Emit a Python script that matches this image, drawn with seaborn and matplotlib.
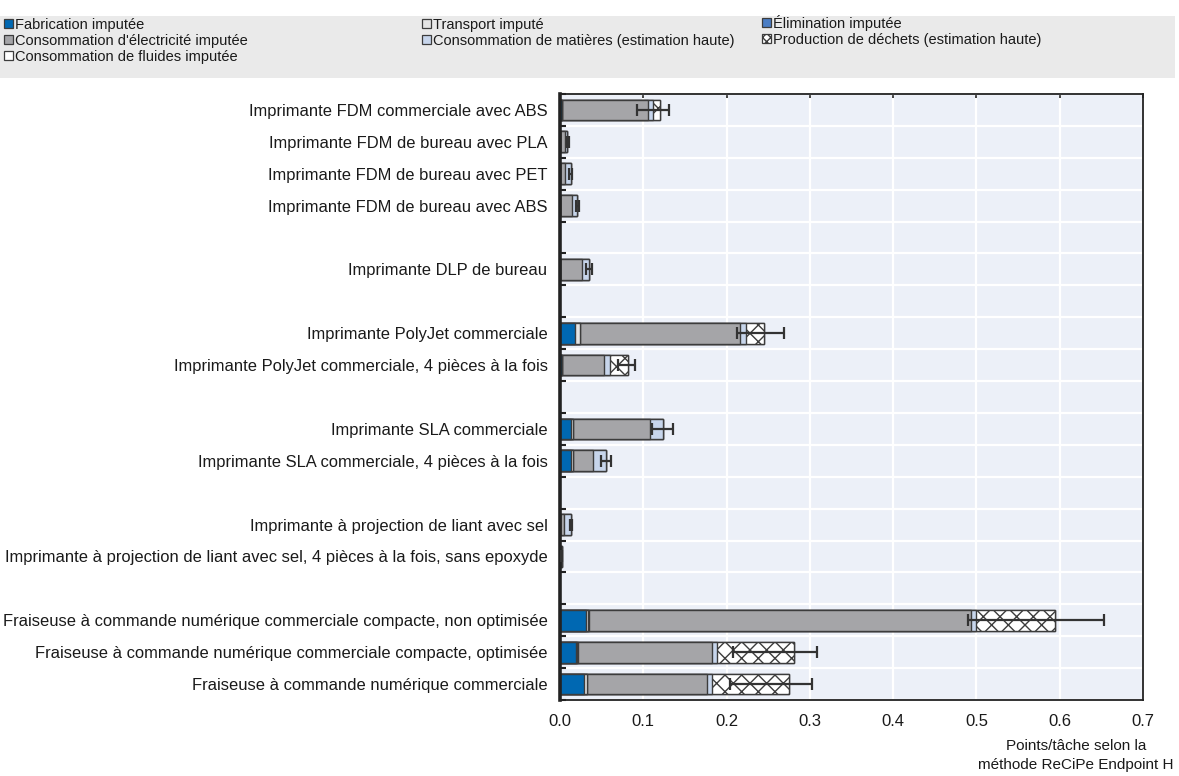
import matplotlib
matplotlib.use("Agg")
import matplotlib.pyplot as plt
from matplotlib.patches import Patch, Rectangle
import numpy as np
import pandas as pd
import seaborn as sns

# ---- data -------------------------------------------------------------
machines = [
    "Imprimante FDM commerciale avec ABS",
    "Imprimante FDM de bureau avec PLA",
    "Imprimante FDM de bureau avec PET",
    "Imprimante FDM de bureau avec ABS",
    "Imprimante DLP de bureau",
    "Imprimante PolyJet commerciale",
    "Imprimante PolyJet commerciale, 4 pièces à la fois",
    "Imprimante SLA commerciale",
    "Imprimante SLA commerciale, 4 pièces à la fois",
    "Imprimante à projection de liant avec sel",
    "Imprimante à projection de liant avec sel, 4 pièces à la fois, sans epoxyde",
    "Fraiseuse à commande numérique commerciale compacte, non optimisée",
    "Fraiseuse à commande numérique commerciale compacte, optimisée",
    "Fraiseuse à commande numérique commerciale",
]
# technology family of each machine (families are separated by an empty row)
family = ["FDM", "FDM", "FDM", "FDM", "DLP", "PolyJet", "PolyJet",
          "SLA", "SLA", "Liant", "Liant", "CN", "CN", "CN"]

fabrication = [0.003, 0.0, 0.0, 0.0, 0.0, 0.018, 0.002, 0.013, 0.013, 0.0, 0.0, 0.031, 0.019, 0.029]
transport = [0.0, 0.0, 0.0, 0.0, 0.0, 0.006, 0.001, 0.003, 0.003, 0.0, 0.0, 0.003, 0.002, 0.003]
elimination = [0.0, 0.0, 0.0, 0.0, 0.0, 0.0, 0.0, 0.0, 0.0, 0.0, 0.0, 0.001, 0.001, 0.001]
electricite = [0.103, 0.006, 0.006, 0.015, 0.026, 0.192, 0.050, 0.092, 0.024, 0.005, 0.001, 0.459, 0.160, 0.143]
matieres = [0.006, 0.003, 0.007, 0.006, 0.009, 0.007, 0.007, 0.016, 0.015, 0.008, 0.001, 0.006, 0.006, 0.006]
dechets = [0.008, 0.0, 0.0, 0.0, 0.0, 0.022, 0.022, 0.0, 0.0, 0.0, 0.0, 0.094, 0.093, 0.093]
fluides = [0.0] * 14
err_low = [0.093, 0.008, 0.011, 0.019, 0.031, 0.213, 0.070, 0.111, 0.049, 0.012, 0.001, 0.490, 0.208, 0.204]
err_high = [0.131, 0.011, 0.015, 0.023, 0.039, 0.269, 0.090, 0.136, 0.061, 0.015, 0.003, 0.653, 0.309, 0.302]

components = [
    ("Fabrication imputée", fabrication, "#0068B2", ""),
    ("Transport imputé", transport, "#E4E4E4", ""),
    ("Élimination imputée", elimination, "#4A7DC4", ""),
    ("Consommation d'électricité imputée", electricite, "#A5A5A8", ""),
    ("Consommation de matières (estimation haute)", matieres, "#C7D5EB", ""),
    ("Production de déchets (estimation haute)", dechets, "#FFFFFF", "xx"),
    ("Consommation de fluides imputée", fluides, "#FFFFFF", ""),
]

# ---- style ------------------------------------------------------------
sns.set_style("white")
plt.rcParams["font.family"] = ["Liberation Sans", "DejaVu Sans"]
plt.rcParams["hatch.color"] = "#4A4A4A"
plt.rcParams["hatch.linewidth"] = 1.0
EDGE = "#3C3C3C"

# row positions: one empty slot between technology families
rows = []
pos = 0
for i, fam in enumerate(family):
    if i > 0 and fam != family[i - 1]:
        pos += 1
    rows.append(pos)
    pos += 1
n_slots = pos

fig = plt.figure(figsize=(11.79, 7.76), dpi=100)
ax = fig.add_axes([560 / 1179, 76 / 776, 583 / 1179, 606 / 776])
ax.set_facecolor("#ECF0F8")

# stacked bars: cumulative totals drawn from the outermost segment inwards
cum = np.cumsum(np.array([c[1] for c in components]), axis=0)
for k in range(len(components) - 1, -1, -1):
    label, _, color, hatch = components[k]
    df = pd.DataFrame({"row": rows, "valeur": cum[k]})
    sns.barplot(data=df, x="valeur", y="row", orient="y", native_scale=True,
                color=color, saturation=1, width=0.65, errorbar=None,
                edgecolor=EDGE, linewidth=1.0, hatch=hatch, ax=ax, zorder=2)

total = cum[-1]
ax.errorbar(total, rows,
            xerr=[total - np.array(err_low), np.array(err_high) - total],
            fmt="none", ecolor="#333333", elinewidth=1.6, capsize=4.5,
            capthick=1.6, zorder=5)

# ---- axes -------------------------------------------------------------
ax.set_xlim(0, 0.7)
ax.set_ylim(n_slots - 0.5, -0.5)
ax.set_xticks(np.arange(0, 0.71, 0.1))
ax.set_xticklabels([f"{v:.1f}" for v in np.arange(0, 0.71, 0.1)])
ax.set_yticks(rows)
ax.set_yticklabels(machines)
ax.set_yticks(np.arange(-0.5, n_slots, 1), minor=True)
ax.set_ylabel("")
ax.set_axisbelow(True)
ax.xaxis.grid(True, which="major", color="white", linewidth=1.6)
ax.yaxis.grid(True, which="minor", color="white", linewidth=1.6)
ax.yaxis.grid(False, which="major")

ax.tick_params(axis="y", which="major", length=0, pad=9, labelsize=11.85, labelcolor="#1A1A1A")
ax.tick_params(axis="y", which="minor", direction="in", length=4, width=1.5,
               color="#222222", left=True, right=False)
ax.tick_params(axis="x", which="major", direction="in", length=3, width=1.2,
               top=True, bottom=False, pad=10, labelsize=12, labelcolor="#1A1A1A",
               color="#222222")
for side, sp in ax.spines.items():
    sp.set_visible(True)
    sp.set_color("#222222")
    sp.set_linewidth(1.3)
ax.spines["left"].set_linewidth(2.6)

ax.set_xlabel("Points/tâche selon la\nméthode ReCiPe Endpoint H",
              fontsize=11, color="#1A1A1A", linespacing=1.45, ha="center", va="top")
ax.xaxis.set_label_coords(516 / 583, -39 / 606)

# ---- legend -----------------------------------------------------------
fig.patches.append(Rectangle((0, (776 - 78) / 776), 1175 / 1179, 62 / 776,
                             transform=fig.transFigure, facecolor="#EAEAEA",
                             edgecolor="none", zorder=0))
handles = [Patch(facecolor=c[2], edgecolor=EDGE, hatch=("xxxx" if c[3] else ""),
                 linewidth=0.9, label=c[0])
           for c in components]
columns = [[0, 3, 6], [1, 4], [2, 5]]
col_x = [4, 422, 762]
col_top = [18, 18, 15]
for idx, x0, y0 in zip(columns, col_x, col_top):
    leg = fig.legend(handles=[handles[i] for i in idx], loc="upper left",
                     bbox_to_anchor=(x0 / 1179, (776 - y0) / 776),
                     frameon=False, fontsize=10.5, handlelength=0.6, handleheight=0.6,
                     handletextpad=0.15, labelspacing=0.12, borderpad=0, borderaxespad=0)
    for t in leg.get_texts():
        t.set_color("#1A1A1A")

fig.savefig("out.png", dpi=100, facecolor="white")
